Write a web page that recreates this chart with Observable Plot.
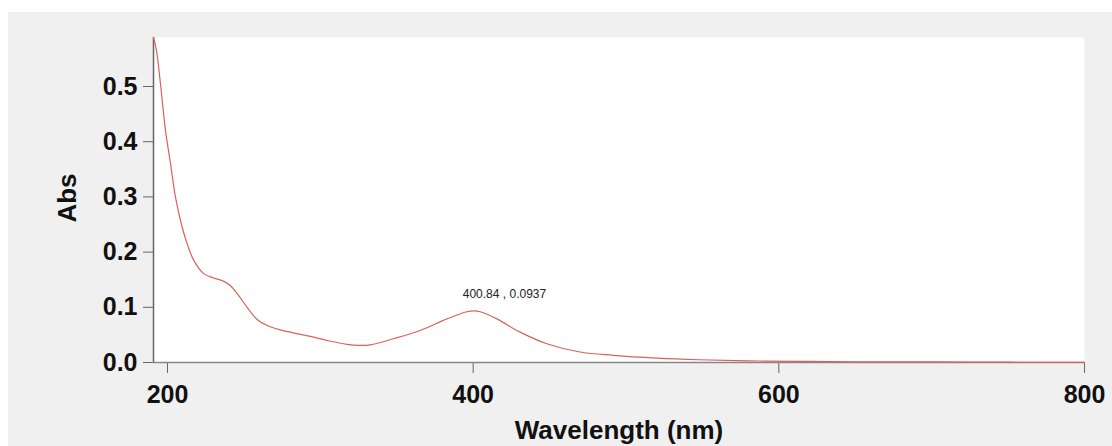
<!DOCTYPE html>
<html>
<head>
<meta charset="utf-8">
<script src="https://cdn.jsdelivr.net/npm/d3@7"></script>
<script src="https://cdn.jsdelivr.net/npm/@observablehq/plot@0.6"></script>
<style>
  html, body { margin: 0; padding: 0; background: #ffffff; }
  #wrap { padding-top: 12px; padding-left: 8px; }
  #wrap svg { display: block; background: #f0f0f0; }
</style>
</head>
<body>
<div id="wrap"></div>
<script>
const wavelengths = [190.84, 192.8, 195.4, 198.7, 202, 205.2, 209.6, 212.9, 217.2, 223.7, 230.3, 236.8, 241.2, 246.6, 252.1, 258.6, 265.2, 273.9, 286.9, 295.6, 306, 317.5, 325, 332.7, 347.9, 365.4, 382.8, 395.9, 400.84, 404.6, 415.5, 430.7, 448.2, 469.9, 491.7, 520, 548, 580, 613, 650, 700, 750, 800];
const absorbance = [0.589, 0.565, 0.505, 0.420, 0.360, 0.300, 0.245, 0.215, 0.185, 0.161, 0.153, 0.147, 0.139, 0.121, 0.100, 0.078, 0.067, 0.059, 0.051, 0.046, 0.039, 0.033, 0.031, 0.032, 0.043, 0.058, 0.079, 0.092, 0.0937, 0.092, 0.079, 0.055, 0.034, 0.019, 0.013, 0.008, 0.005, 0.003, 0.002, 0.001, 0.001, 0.0005, 0.0003];
const xTicks = [200, 400, 600, 800];
const yTicks = [0, 0.1, 0.2, 0.3, 0.4, 0.5];
const peak = [{wl: 400.84, abs: 0.0937, label: "400.84 , 0.0937"}];
const xLabel = "Wavelength (nm)";
const yLabel = "Abs";

const data = wavelengths.map((w, i) => ({wl: w, abs: absorbance[i]}));
const font = "'Liberation Sans', Arial, sans-serif";

const chart = Plot.plot({
  width: 1104,
  height: 434,
  marginLeft: 145,
  marginRight: 28,
  marginTop: 25,
  marginBottom: 84,
  style: {fontFamily: font, background: "#f0f0f0", overflow: "visible"},
  x: {domain: [190.84, 800]},
  y: {domain: [0, 0.5888]},
  marks: [
    Plot.frame({fill: "white", stroke: null}),
    Plot.axisY({ticks: yTicks, tickFormat: d3.format(".1f"), tickSize: 10, tickPadding: 6,
      fontSize: 25, fontWeight: "bold", fill: "#111", stroke: "#666", label: null}),
    Plot.axisX({ticks: xTicks, tickFormat: d => String(d), tickSize: 11, tickPadding: 12,
      fontSize: 25, fontWeight: "bold", fill: "#111", stroke: "#666", label: null}),
    Plot.ruleX([190.84], {stroke: "#666", strokeWidth: 1.5}),
    Plot.ruleY([0], {stroke: "#888", strokeWidth: 1.5}),
    Plot.line(data, {x: "wl", y: "abs", stroke: "#d9625e", strokeWidth: 1.2, curve: "catmull-rom"}),
    Plot.text(peak, {x: "wl", y: "abs", text: "label", dx: 30, dy: -13, lineAnchor: "bottom",
      fontSize: 12, fill: "#222", fontFamily: font}),
    Plot.text([xLabel], {frameAnchor: "bottom", dy: 76, lineAnchor: "bottom", fontSize: 26,
      fontWeight: "bold", fill: "#111", fontFamily: font}),
    Plot.text([yLabel], {frameAnchor: "left", dx: -78, dy: -2, rotate: -90, lineAnchor: "bottom",
      textAnchor: "middle", fontSize: 26, fontWeight: "bold", fill: "#111", fontFamily: font})
  ]
});
document.getElementById("wrap").appendChild(chart);
</script>
</body>
</html>
